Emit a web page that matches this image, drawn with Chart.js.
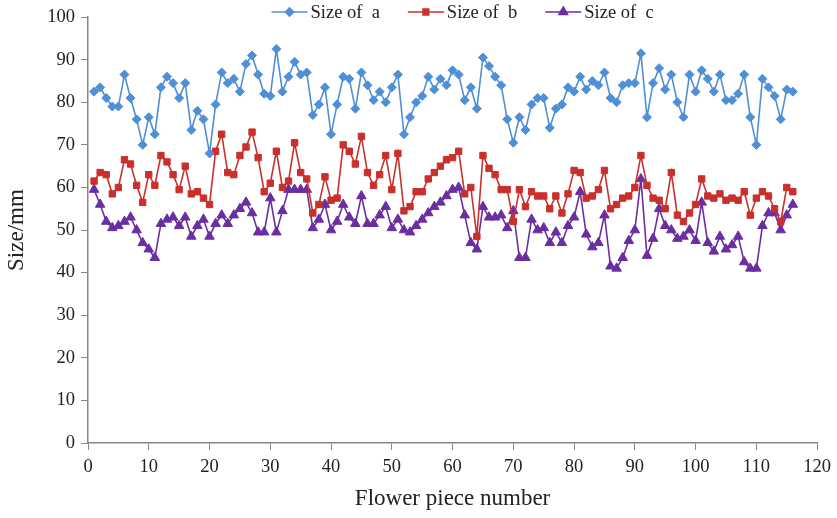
<!DOCTYPE html>
<html lang="en">
<head>
  <meta charset="UTF-8">
  <title>Flower piece size</title>
  <script src="https://cdn.jsdelivr.net/npm/chart.js"></script>
  <style>
    html, body { margin: 0; padding: 0; background: #fff; }
    #wrap { width: 837px; height: 518px; }
  </style>
</head>
<body>
  <div id="wrap"><canvas id="sizeChart" width="837" height="518"></canvas></div>

  <script>
    // flower piece numbers 1..116
    const pieceNumbers = Array.from({ length: 116 }, (_, i) => i + 1);

    const sizeA = [
      82.5, 83.5, 81, 79, 79, 86.5, 81, 76, 70, 76.5,
      72.5, 83.5, 86, 84.5, 81, 84.5, 73.5, 78, 76, 68,
      79.5, 87, 84.5, 85.5, 82.5, 89, 91, 86.5, 82, 81.5,
      92.5, 82.5, 86, 89.5, 86.5, 87, 77, 79.5, 83.5, 72.5,
      79.5, 86, 85.5, 78.5, 87, 84, 80.5, 82.5, 80, 83.5,
      86.5, 72.5, 76.5, 80, 81.5, 86, 83, 85.5, 84, 87.5,
      86.5, 80.5, 83.5, 78.5, 90.5, 88.5, 86, 84, 76, 70.5,
      76.5, 73.5, 79.5, 81, 81, 74, 78.5, 79.5, 83.5, 82.5,
      86, 83, 85, 84, 87, 81, 80, 84, 84.5, 84.5,
      91.5, 76.5, 84.5, 88, 83, 86.5, 80, 76.5, 86.5, 82.5,
      87.5, 85.5, 82.5, 86.5, 80.5, 80.5, 82, 86.5, 76.5, 70,
      85.5, 83.5, 81.5, 76, 83, 82.5
    ];

    const sizeB = [
      61.5, 63.5, 63, 58.5, 60, 66.5, 65.5, 60.5, 56.5, 63,
      60.5, 67.5, 66, 63, 59.5, 65, 58.5, 59, 57.5, 56,
      68.5, 72.5, 63.5, 63, 67.5, 69.5, 73, 67, 59, 61,
      68.5, 60, 61.5, 70.5, 63.5, 62, 54, 56, 62.5, 57,
      57.5, 70, 68.5, 65.5, 72, 63.5, 60.5, 63, 67.5, 59.5,
      68, 54.5, 55.5, 59, 59, 62, 63.5, 65, 66.5, 67,
      68.5, 58.5, 60, 48.5, 67.5, 64.5, 63, 59.5, 59.5, 52,
      59.5, 55.5, 59, 58, 58, 55, 58, 54, 58.5, 64,
      63.5, 57.5, 58, 59.5, 64, 55, 56, 57.5, 58, 60,
      67.5, 60.5, 57.5, 57, 55, 63.5, 53.5, 52, 54, 56,
      62, 58, 57.5, 58.5, 57, 57.5, 57, 59, 53.5, 57.5,
      59, 58, 55, 52, 60, 59
    ];

    const sizeC = [
      59.5, 56, 52, 50.5, 51, 52, 53, 50, 47, 45.5,
      43.5, 51.5, 52.5, 53, 51, 53, 48.5, 51, 52.5, 48.5,
      51.5, 53.5, 51.5, 53.5, 55, 56.5, 54, 49.5, 49.5, 57.5,
      49.5, 54.5, 59.5, 59.5, 59.5, 59.5, 50.5, 52.5, 56, 50,
      52, 56, 53, 51.5, 58, 51.5, 51.5, 53.5, 55.5, 50.5,
      52.5, 50, 49.5, 51, 52.5, 54, 55.5, 56.5, 58, 59.5,
      60, 53.5, 47, 45.5, 55.5, 53, 53, 53.5, 50.5, 54.5,
      43.5, 43.5, 52.5, 50, 50.5, 47, 49.5, 47, 51, 53,
      59, 49, 46, 47, 53.5, 41.5, 41, 43.5, 47.5, 50,
      62, 44, 48, 55, 51, 50, 48, 48.5, 50, 47.5,
      56.5, 47, 45, 48.5, 45.5, 46.5, 48.5, 42.5, 41, 41,
      51, 54, 54, 50, 53.5, 56
    ];

    const seriesNames = ['Size of  a', 'Size of  b', 'Size of  c'];
    const seriesColors = ['#4f8fd6', '#c9302c', '#6a2ea0'];
    const seriesMarkers = ['rectRot', 'rect', 'triangle'];

    const serif = '"Liberation Serif", "Times New Roman", serif';
    const axisColor = '#8c8580';

    function toPoints(values) {
      return values.map((v, i) => ({ x: pieceNumbers[i], y: v }));
    }

    const datasets = [sizeA, sizeB, sizeC].map((vals, k) => ({
      label: seriesNames[k],
      data: toPoints(vals),
      borderColor: seriesColors[k],
      backgroundColor: seriesColors[k],
      borderWidth: 1.6,
      pointStyle: seriesMarkers[k],
      pointRadius: k === 2 ? 5.5 : 4.5,
      pointBorderWidth: 1,
      tension: 0
    }));

    // legend drawn as line + marker like the original
    const lineLegend = {
      id: 'lineLegend',
      afterDraw(chart) {
        const ctx = chart.ctx;
        ctx.save();
        ctx.font = '18.5px ' + serif;
        ctx.textBaseline = 'middle';
        const lineLen = 36, gap = 3, itemGap = 28;
        const widths = seriesNames.map(n => lineLen + gap + ctx.measureText(n).width);
        const total = widths.reduce((a, b) => a + b, 0) + itemGap * (widths.length - 1);
        let x = (chart.chartArea.left + chart.chartArea.right) / 2 + 10 - total / 2;
        const y = 12;
        seriesNames.forEach((name, k) => {
          ctx.strokeStyle = seriesColors[k];
          ctx.lineWidth = 1.6;
          ctx.beginPath();
          ctx.moveTo(x, y);
          ctx.lineTo(x + lineLen, y);
          ctx.stroke();
          ctx.fillStyle = seriesColors[k];
          Chart.helpers.drawPoint(ctx, {
            pointStyle: seriesMarkers[k],
            radius: k === 2 ? 5 : 4,
            rotation: 0,
            borderWidth: 1
          }, x + lineLen / 2, y);
          ctx.fillStyle = '#222';
          ctx.fillText(name, x + lineLen + gap, y + 1);
          x += widths[k] + itemGap;
        });
        ctx.restore();
      }
    };

    new Chart(document.getElementById('sizeChart'), {
      type: 'line',
      data: { datasets: datasets },
      options: {
        responsive: false,
        animation: false,
        layout: { padding: { left: 3, right: 15, top: 17, bottom: 5 } },
        plugins: {
          legend: { display: false },
          tooltip: { enabled: false }
        },
        scales: {
          x: {
            type: 'linear',
            min: 0,
            max: 120,
            afterFit: s => { s.height = 70; },
            ticks: {
              stepSize: 10,
              color: '#222',
              padding: 6,
              font: { family: serif, size: 18.5 }
            },
            grid: {
              drawOnChartArea: false,
              drawTicks: true,
              tickLength: 7,
              color: axisColor
            },
            border: { color: axisColor, width: 1.5 },
            title: {
              display: true,
              text: 'Flower piece number',
              color: '#222',
              padding: { top: 2, bottom: 0 },
              font: { family: serif, size: 23 }
            }
          },
          y: {
            min: 0,
            max: 100,
            afterFit: s => { s.width = 85; },
            ticks: {
              stepSize: 10,
              color: '#222',
              padding: 6,
              font: { family: serif, size: 18.5 }
            },
            grid: {
              drawOnChartArea: false,
              drawTicks: true,
              tickLength: 7,
              color: axisColor
            },
            border: { color: axisColor, width: 1.5 },
            title: {
              display: true,
              text: 'Size/mm',
              color: '#222',
              padding: { top: 0, bottom: 2 },
              font: { family: serif, size: 23 }
            }
          }
        }
      },
      plugins: [lineLegend]
    });
  </script>
</body>
</html>
